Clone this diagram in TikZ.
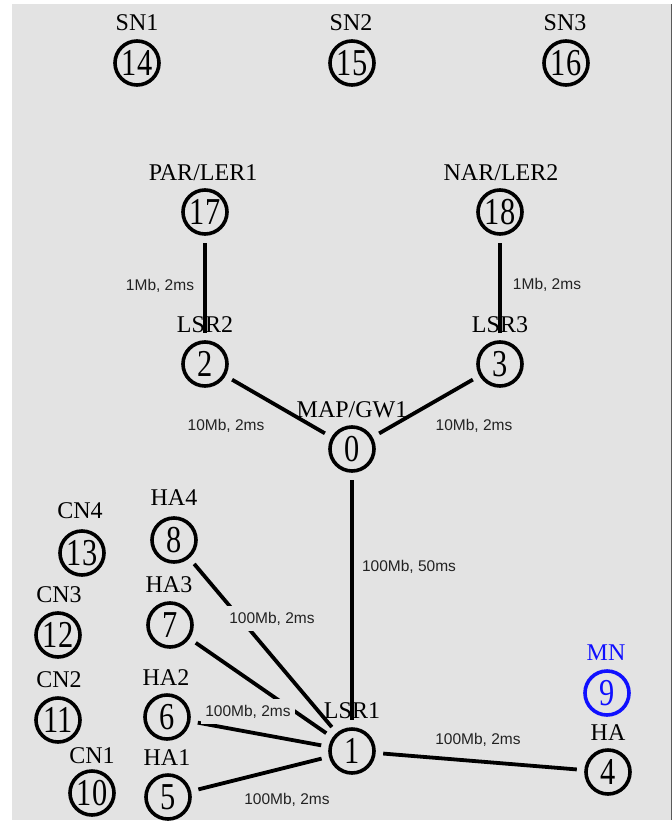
\documentclass[tikz,border=0pt]{standalone}
\usepackage{fontspec}
\setmainfont{Liberation Serif}
\newfontfamily\edgefont{Liberation Sans}
\definecolor{bgc}{HTML}{E3E3E3}
\definecolor{lblc}{HTML}{222222}
\definecolor{mnblue}{HTML}{1010FF}
\newcommand\ndnum[1]{\scalebox{0.8}[1]{#1}}
\tikzset{
  nd/.style={circle,draw,line width=3.6pt,minimum size=44pt,inner sep=0pt,
    font=\fontsize{38}{38}\selectfont},
  nlab/.style={anchor=base,inner sep=0pt,font=\fontsize{24}{24}\selectfont},
  edge/.style={line width=3.8pt,shorten <=7.5pt,shorten >=7.5pt},
  elab/.style={anchor=base,fill=bgc,inner xsep=4pt,inner ysep=6pt,text=lblc,
    font=\edgefont\fontsize{15.5}{15.5}\selectfont}
}
\begin{document}
\begin{tikzpicture}[x=1pt,y=-1pt]
\useasboundingbox (0,0) rectangle (672,822);
\fill[bgc] (12,4) rectangle (670.5,820);
\draw[line width=1.5pt,black!65] (671.25,4) -- (671.25,820);

% nodes
\node[nd] (n14) at (137,63) {\ndnum{14}};
\node[nd] (n15) at (352,63) {\ndnum{15}};
\node[nd] (n16) at (566,63) {\ndnum{16}};
\node[nd] (n17) at (205,212) {\ndnum{17}};
\node[nd] (n18) at (500,212) {\ndnum{18}};
\node[nd] (n2) at (205,364) {\ndnum{2}};
\node[nd] (n3) at (500,364) {\ndnum{3}};
\node[nd] (n0) at (352,449) {\ndnum{0}};
\node[nd] (n1) at (352,751) {\ndnum{1}};
\node[nd] (n8) at (174,540) {\ndnum{8}};
\node[nd] (n7) at (170,625) {\ndnum{7}};
\node[nd] (n6) at (167,717) {\ndnum{6}};
\node[nd] (n5) at (168,797) {\ndnum{5}};
\node[nd] (n13) at (82,553) {\ndnum{13}};
\node[nd] (n12) at (58,635) {\ndnum{12}};
\node[nd] (n11) at (58,720) {\ndnum{11}};
\node[nd] (n10) at (92,793) {\ndnum{10}};
\node[nd,draw=mnblue,text=mnblue] (n9) at (607,693) {\ndnum{9}};
\node[nd] (n4) at (608,772) {\ndnum{4}};

% node labels
\node[nlab] (t14) at (137,30) {SN1};
\node[nlab] (t15) at (351,30) {SN2};
\node[nlab] (t16) at (565,30) {SN3};
\node[nlab] (t17) at (203,180) {PAR/LER1};
\node[nlab] (t18) at (501,180) {NAR/LER2};
\node[nlab] (t2) at (205,332) {LSR2};
\node[nlab] (t3) at (500,332) {LSR3};
\node[nlab] (t0) at (352,417) {MAP/GW1};
\node[nlab] (t1) at (352,718) {LSR1};
\node[nlab] (t8) at (174,505) {HA4};
\node[nlab] (t7) at (169,592) {HA3};
\node[nlab] (t6) at (166,685) {HA2};
\node[nlab] (t5) at (167,765) {HA1};
\node[nlab] (t13) at (80,518) {CN4};
\node[nlab] (t12) at (59,602) {CN3};
\node[nlab] (t11) at (59,687) {CN2};
\node[nlab] (t10) at (92,763) {CN1};
\node[nlab,text=mnblue] (t9) at (606,660) {MN};
\node[nlab] (t4) at (608,740) {HA};

% edges
\draw[edge] (n17) -- (n2);
\draw[edge] (n18) -- (n3);
\draw[edge] (n2) -- (n0);
\draw[edge] (n3) -- (n0);
\draw[edge] (n0) -- (n1);
\draw[edge] (n8) -- (n1);
\draw[edge] (n7) -- (n1);
\draw[edge] (n6) -- (n1);
\draw[edge] (n5) -- (n1);
\draw[edge] (n1) -- (n4);

% edge labels
\node[elab] (e172) at (160,290) {1Mb, 2ms};
\node[elab] (e183) at (547,289) {1Mb, 2ms};
\node[elab] (e20) at (226,430) {10Mb, 2ms};
\node[elab] (e30) at (474,430) {10Mb, 2ms};
\node[elab] (e01) at (409,571) {100Mb, 50ms};
\node[elab] (e81) at (272,623) {100Mb, 2ms};
\node[elab] (e61) at (248,716) {100Mb, 2ms};
\node[elab] (e51) at (287,804) {100Mb, 2ms};
\node[elab] (e14) at (478,744) {100Mb, 2ms};
\end{tikzpicture}
\end{document}
